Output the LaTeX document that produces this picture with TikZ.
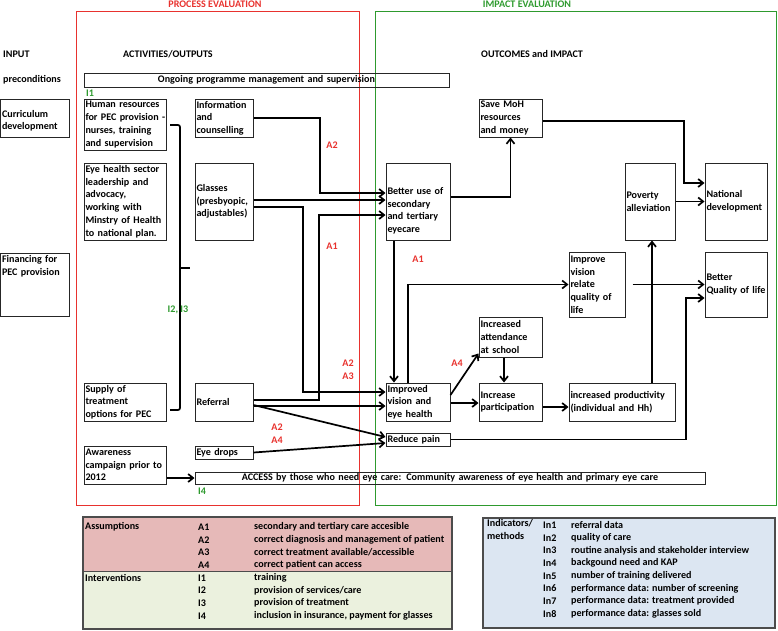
\documentclass[tikz,border=0pt]{standalone}
\usepackage{fontspec}
\setmainfont{Carlito}
\usetikzlibrary{arrows.meta, calc}
\definecolor{evalred}{HTML}{E8322E}
\definecolor{evalgreen}{HTML}{2E9A2E}
\definecolor{asmpink}{HTML}{E6B9B8}
\definecolor{intgreen}{HTML}{EBF1DE}
\definecolor{indblue}{HTML}{DCE6F2}

\begin{document}
\begin{tikzpicture}[x=1pt, y=-1pt,
    font=\bfseries\fontsize{10.1}{12.7}\selectfont,
    box/.style 2 args={draw=black!85, line width=1pt, inner xsep=1.5pt, inner ysep=1pt,
        text width=#1, minimum height=#2, align=left,
        execute at begin node={\hyphenpenalty=10000\exhyphenpenalty=10000\relax}},
    arr/.style={-{Straight Barb[length=5pt, width=8pt]}, line width=1.7pt},
    asm/.style={text=evalred},
    intv/.style={text=evalgreen},
    txt/.style={anchor=west, inner sep=0pt}]
    \useasboundingbox (0,0) rectangle (778,630);

    % evaluation frames
    \draw[evalred, line width=0.9pt] (76,11) rectangle (359,505);
    \draw[evalgreen, line width=0.9pt] (375,11) rectangle (776,505);
    \node[text=evalred] (proctitle) at (215,4) {PROCESS EVALUATION};
    \node[text=evalgreen] (imptitle) at (527,4) {IMPACT EVALUATION};

    % column headings
    \node[txt] (input) at (3,54) {INPUT};
    \node[txt] (precond) at (3,80) {preconditions};
    \node[txt] (activities) at (123,54) {ACTIVITIES/OUTPUTS};
    \node[txt] (outcomes) at (481,54) {OUTCOMES and IMPACT};

    % boxes
    \node[box={362pt}{14pt}, align=center] (ongoing) at (266.5,80) {Ongoing programme management and supervision};
    \node[box={65.5pt}{38pt}] (curr) at (34.75,118) {\mbox{}\\Curriculum\\development};
    \node[box={79pt}{51pt}] (hr) at (125,124.5) {Human~resources\\for~PEC~provision~-\\nurses,~training\\and~supervision};
    \node[box={55pt}{38pt}] (info) at (224,118) {Information\\and\\counselling};
    \node[box={60pt}{38pt}] (save) at (510.5,118) {Save~MoH\\resources\\and~money};
    \node[box={79pt}{77pt}] (eyesec) at (125,201.5) {Eye~health~sector\\leadership~and\\advocacy,\\working~with\\Minstry~of~Health\\to~national~plan.};
    \node[box={55pt}{77pt}] (glass) at (224,201.5) {Glasses\\(presbyopic,\\adjustables)};
    \node[box={61pt}{77pt}] (better) at (418,201.5) {\mbox{}\\\mbox{}\\Better~use~of\\secondary\\and~tertiary\\eyecare};
    \node[box={47pt}{77pt}] (pov) at (650,201.5) {Poverty\\alleviation};
    \node[box={59pt}{77pt}] (natdev) at (736,201.5) {National\\development};
    \node[box={65.5pt}{63pt}] (fin) at (34.75,284.5) {Financing~for\\PEC~provision\\\mbox{}\\\mbox{}\\\mbox{}};
    \node[box={53pt}{65pt}] (impqol) at (597,284.5) {Improve\\vision\\relate\\quality~of\\life};
    \node[box={59pt}{65pt}] (betqol) at (736,284.5) {Better\\Quality~of~life};
    \node[box={60pt}{40pt}] (attend) at (510.5,337) {Increased\\attendance\\at~school};
    \node[box={61pt}{38pt}] (impvis) at (418,402) {Improved\\vision~and\\eye~health};
    \node[box={60pt}{38pt}] (partic) at (510.5,402) {Increase\\participation};
    \node[box={103pt}{38pt}] (prod) at (622,402) {increased~productivity\\(individual~and~Hh)};
    \node[box={61pt}{13pt}] (pain) at (418,439.5) {Reduce~pain};
    \node[box={79pt}{38pt}] (supply) at (125,402) {Supply~of\\treatment\\options~for~PEC};
    \node[box={55pt}{38pt}] (referral) at (224,402) {Referral};
    \node[box={79pt}{38pt}] (aware) at (125,465) {Awareness\\campaign~prior~to\\2012};
    \node[box={55pt}{13pt}] (drops) at (224,452.5) {Eye~drops};
    \node[box={507pt}{12pt}, align=center] (access) at (450,478) {ACCESS by those who need eye care: Community awareness of eye health and primary eye care};

    % bracket of the inputs
    \draw[line width=1.7pt, rounded corners=2pt] (170,125) -| (180,410) -- (170,410);
    \draw[line width=1.7pt] (180,268) -- (190,268);

    % connectors
    \draw[arr] (info.east) -| (320,193) -- (better.west |- 0,193);
    \draw[arr] (glass.east |- 0,200) -- (better.west |- 0,200);
    \draw[arr] (glass.east |- 0,207) -| (303,392) -- (impvis.west |- 0,392);
    \draw[arr] (referral.east |- 0,400) -| (319,215) -- (better.west |- 0,215);
    \draw[arr] (referral.east |- 0,406) -- (impvis.west |- 0,406);
    \draw[arr] (referral.east |- 0,405) -- (pain.west |- 0,437);
    \draw[arr] (drops.east) -- (pain.west |- 0,443);
    \draw[arr] (better.east |- 0,197) -| (save.south);
    \draw[arr] (save.east |- 0,121) -| (684,183) -- (natdev.west |- 0,183);
    \draw[arr] (pov.east) -- (natdev.west);
    \draw[arr] (better.south -| 394,0) -- (impvis.north -| 394,0);
    \draw[arr] (impvis.north -| 408,0) |- (impqol.west);
    \draw[arr] (impvis.east |- 0,395) -- ($(attend.south west)+(0,-4)$);
    \draw[arr] (impvis.east |- 0,403) -- (partic.west |- 0,403);
    \draw[arr] (attend.south -| 504,0) -- (partic.north -| 504,0);
    \draw[arr] (partic.east |- 0,407) -- (prod.west |- 0,407);
    \draw[arr] (prod.north -| 652,0) -- (pov.south -| 652,0);
    \draw[arr] ($(impqol.east)+(7,0)$) -- (impqol.east -| betqol.west);
    \draw[arr] (pain.east) -| (686,298) -- (betqol.west |- 0,298);
    \draw[arr] (aware.east |- access.west) -- (access.west);

    % assumption and intervention labels
    \node[asm] (a2top) at (332,145) {A2};
    \node[asm] (a1left) at (332,246) {A1};
    \node[asm] (a1right) at (418,259) {A1};
    \node[asm, align=center] (a2a3) at (348,369.5) {A2\\A3};
    \node[asm, align=center] (a2a4) at (277,433.5) {A2\\A4};
    \node[asm] (a4) at (457,363) {A4};
    \node[intv, txt] (i1) at (86,93) {I1};
    \node[intv] (i2i3) at (178,310) {I2, I3};
    \node[intv, txt] (i4) at (198,491) {I4};

    % assumptions and interventions table
    \fill[asmpink] (83,517) rectangle (452,571);
    \fill[intgreen] (83,571) rectangle (452,629);
    \draw[black!70, line width=1.2pt] (83,517) rectangle (452,629);
    \draw[black!70, line width=0.9pt] (83,571) -- (452,571);
    \node[txt] (asmhead) at (85,527) {Assumptions};
    \node[txt] (inthead) at (85,577.8) {Interventions};
    \foreach \k/\d [count=\i from 0] in {A1/{secondary and tertiary care accesible},
        A2/{correct diagnosis and management of patient}, A3/{correct treatment available/accessible},
        A4/{correct patient can access}, I1/{training}, I2/{provision of services/care},
        I3/{provision of treatment}, I4/{inclusion in insurance, payment for glasses}}
    {
        \node[txt] at (198,527+12.7*\i) {\k};
        \node[txt] at (254,527+12.7*\i) {\d};
    }

    % indicators table
    \fill[indblue] (483,518) rectangle (775,628);
    \draw[black!70, line width=1.2pt] (483,518) rectangle (775,628);
    \node[txt, align=left, anchor=north west] (indhead) at (487,519) {Indicators/\\methods};
    \foreach \d [count=\i from 1] in {referral data, quality of care,
        routine analysis and stakeholder interview, backgound need and KAP,
        number of training delivered, performance data: number of screening,
        performance data: treatment provided, performance data: glasses sold}
    {
        \node[txt] at (543,512.3+12.7*\i) {In\i};
        \node[txt] at (571,512.3+12.7*\i) {\d};
    }
\end{tikzpicture}
\end{document}
